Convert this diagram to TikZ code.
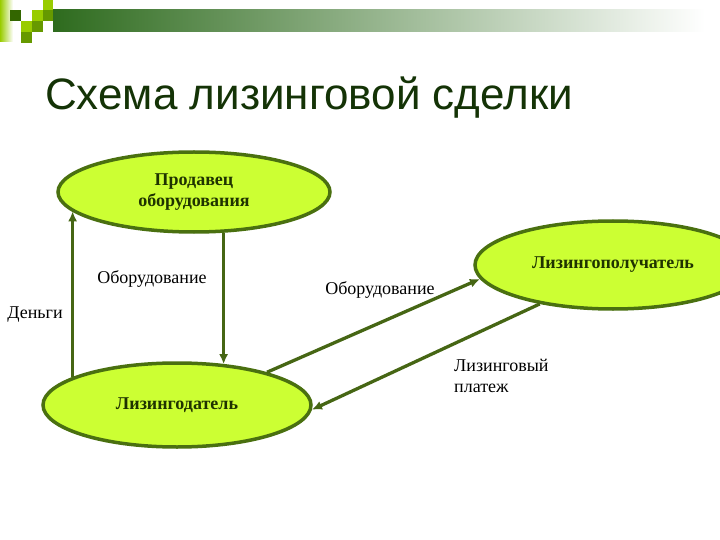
\documentclass[tikz,border=0pt]{standalone}
\usepackage{fontspec}
\setmainfont{Liberation Serif}
\setsansfont{Liberation Sans}
\usetikzlibrary{shapes,arrows.meta,positioning}
\definecolor{leaseFill}{HTML}{CCFF33}
\definecolor{leaseEdge}{HTML}{4A7010}
\definecolor{leaseArrow}{HTML}{466614}
\definecolor{leaseText}{HTML}{1F3300}
\definecolor{leaseTitle}{HTML}{143306}
\definecolor{decoDark}{HTML}{336600}
\definecolor{decoMid}{HTML}{669900}
\definecolor{decoLime}{HTML}{99CC00}
\definecolor{barDark}{HTML}{2E6B1E}
\definecolor{barMid}{HTML}{A3B09C}
\tikzset{
    party/.style={
        ellipse,
        draw=leaseEdge,
        line width=3.5pt,
        fill=leaseFill,
        inner sep=0pt,
        align=center,
        text=leaseText,
        font=\fontsize{18}{21}\selectfont\bfseries
    },
    % Connectors
    flow/.style={-{Latex[length=10pt,width=9pt]}, line width=3.3pt, draw=leaseArrow},
    flowLabel/.style={font=\fontsize{18}{21}\selectfont, text=black, inner sep=0pt, align=left},
    decoSq/.style={fill=#1, draw=none}
}

\begin{document}
\begin{tikzpicture}[x=1pt, y=-1pt]
\useasboundingbox (0,0) rectangle (720,540);
\clip (0,0) rectangle (720,540);

% corner decoration
\shade[left color=decoLime, right color=white] (0,0) rectangle (13,42);
\shade[left color=barDark, middle color=barMid, right color=white] (53,10) rectangle (705,32);
\fill[decoSq=decoDark] (10,10) rectangle ++(11,11);
\fill[decoSq=decoLime] (32,10) rectangle ++(11,11);
\fill[decoSq=decoLime] (43,0) rectangle ++(10,10);
\fill[decoSq=decoMid] (43,10) rectangle ++(10,11);
\fill[decoSq=decoLime] (21,21) rectangle ++(11,11);
\fill[decoSq=decoMid] (32,21) rectangle ++(11,11);
\fill[decoSq=decoMid] (21,32) rectangle ++(11,11);

\node[anchor=base west, font=\sffamily\fontsize{44}{50}\selectfont, text=leaseTitle, inner sep=0pt] (title) at (45,110) {Схема лизинговой сделки};

\node[party, minimum width=272pt, minimum height=80pt] (seller) at (194,192) {Продавец\\оборудования};
\node[party, minimum width=276pt, minimum height=88pt] (lessee) at (613,265) {Лизингополучатель};
\node[party, minimum width=268pt, minimum height=84pt] (lessor) at (177,405) {Лизингодатель};

\draw[flow] (lessor.165.7) -- (lessor.165.7 |- seller.189);
\draw[flow] (seller.306.6) -- (seller.306.6 |- lessor.40.6);
\draw[flow] (lessor.20.1) -- (lessee.186.4);
\draw[flow] (lessee.208.7) -- (lessor.358);

\node[flowLabel] (lblMoney) at (35,315) {Деньги};
\node[flowLabel] (lblEquipA) at (152,279) {Оборудование};
\node[flowLabel] (lblEquipB) at (380,290) {Оборудование};
\node[flowLabel, anchor=west] (lblPay) at (454,376) {Лизинговый\\платеж};
\end{tikzpicture}
\end{document}
